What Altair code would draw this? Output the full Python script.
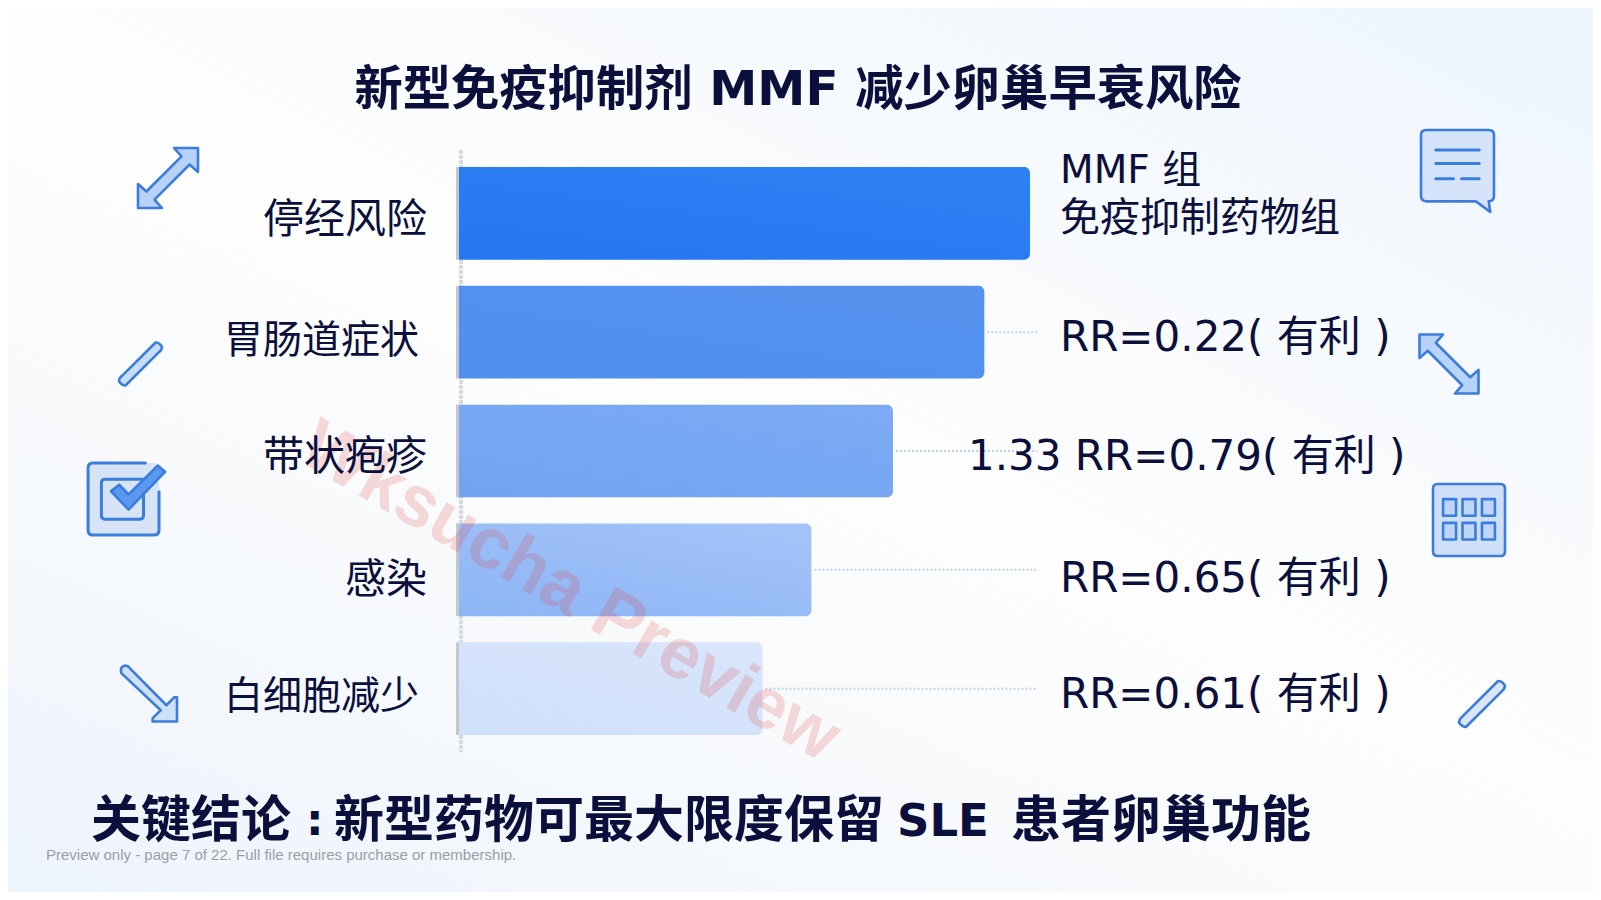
import altair as alt
import pandas as pd

categories = ["停经风险", "胃肠道症状", "带状疱疹", "感染", "白细胞减少"]
values = [1.75, 1.61, 1.33, 1.08, 0.93]
notes = ["", "RR=0.22( 有利 )", "1.33 RR=0.79( 有利 )", "RR=0.65( 有利 )", "RR=0.61( 有利 )"]
bar_left = ["#2676f0", "#4f8fee", "#6fa4f2", "#8db5f5", "#cfe0fb"]
bar_right = ["#2f80f4", "#5592ee", "#7caaf4", "#a3c3f8", "#d8e5fb"]
legend_lines = ["MMF 组", "免疫抑制药物组"]
TITLE = "新型免疫抑制剂 MMF 减少卵巢早衰风险"
CONCLUSION_PARTS = ["关键结论", ":", "新型药物可最大限度保留", "SLE", "患者卵巢功能"]
FOOT = "Preview only - page 7 of 22. Full file requires purchase or membership."
MARK = "Wksucha Preview"

W, H = 1585, 884
OX, OY = 8, 8
CJK = "DejaVu Sans, Noto Sans CJK SC, sans-serif"
INK = "#0b0f3c"

df = pd.DataFrame({"cat": categories, "val": values, "note": notes})
x_scale = alt.Scale(domain=[0, W / 326.3], range=[0, W], nice=False, zero=False)


def px(v):
    return alt.value(v - OX)


def py(v):
    return alt.value(v - OY)


def text(s, x, y, size, weight="normal", align="left", color=INK, font=CJK, **kw):
    return (
        alt.Chart(pd.DataFrame({"t": [s]}))
        .mark_text(align=align, baseline="middle", fontSize=size, fontWeight=weight, color=color, font=font, **kw)
        .encode(text="t:N", x=px(x), y=py(y))
    )


def icon(path, x, y, box, fill, stroke="#3a7ddc", sw=2.6):
    kw = {"filled": True, "fill": fill} if fill else {"filled": False}
    if stroke:
        kw.update(stroke=stroke, strokeWidth=sw)
    else:
        kw.update(strokeWidth=0)
    return (
        alt.Chart(pd.DataFrame({"i": [0]}))
        .mark_point(shape=path, size=box * box, opacity=1, strokeCap="round", strokeJoin="round", **kw)
        .encode(x=px(x), y=py(y))
    )


def wash(x1, y1, x2, y2, rgb, top_alpha):
    return (
        alt.Chart(pd.DataFrame({"b": [0]}))
        .mark_rect(
            color=alt.LinearGradient(
                gradient="linear", x1=x1, y1=y1, x2=x2, y2=y2,
                stops=[
                    alt.GradientStop(color=f"rgba({rgb},{top_alpha})", offset=0),
                    alt.GradientStop(color=f"rgba({rgb},0)", offset=1),
                ],
            )
        )
        .encode(x=alt.value(0), x2=alt.value(W), y=alt.value(0), y2=alt.value(H))
    )


base = (
    alt.Chart(pd.DataFrame({"b": [0]}))
    .mark_rect(color="#fdfdfc")
    .encode(x=alt.value(0), x2=alt.value(W), y=alt.value(0), y2=alt.value(H))
)
layers = [
    base,
    wash(0, 1, 0.42, 0.45, "238,244,252", 1),
    wash(1, 0, 0.55, 0.5, "238,245,254", 1),
]

band_scale = alt.Scale(domain=categories, range=[167 - OY, 735 - OY], paddingInner=0.22, paddingOuter=0)
y_band = alt.Y("cat:N", sort=categories, axis=None, scale=band_scale)

# axis stubs between bars and grey edge beside each bar
layers.append(
    alt.Chart(df).mark_rule(color="#d6d9dd", strokeWidth=3, strokeDash=[4, 1])
    .encode(x=px(461), y=py(150), y2=py(752))
)
layers.append(
    alt.Chart(df).mark_bar(color="#c3c8cf", width=3).encode(x=px(457.5), y=y_band)
)

# leader dots
rows = df.iloc[1:]
layers.append(
    alt.Chart(rows).mark_rule(color="#c0d3e8", strokeWidth=2, strokeDash=[2, 2])
    .encode(
        x=alt.X("val:Q", scale=x_scale, axis=None),
        x2=px(1037),
        y=alt.Y("cat:N", sort=categories, axis=None, bandPosition=0.5, scale=band_scale),
        xOffset=alt.value(459 - OX + 3),
    )
)

# bars
for c, v, l, r in zip(categories, values, bar_left, bar_right):
    layers.append(
        alt.Chart(df[df.cat == c])
        .mark_bar(
            cornerRadiusTopRight=6, cornerRadiusBottomRight=6,
            color=alt.LinearGradient(gradient="linear", x1=0, y1=1, x2=0.8, y2=0,
                                     stops=[alt.GradientStop(color=l, offset=0), alt.GradientStop(color=r, offset=1)]),
        )
        .encode(
            x=alt.X("base:Q", scale=x_scale, axis=None),
            x2="end:Q",
            y=y_band,
        )
        .transform_calculate(base=str((459 - OX) / 326.3), end=f"datum.val + {(459 - OX) / 326.3}")
    )

layers.append(text(MARK, 570, 592, 72, weight="bold", align="center", color="#e0403c",
                   font="Liberation Sans", angle=30, opacity=0.19))

# category labels
label_pos = {"停经风险": (427, 221, 41), "胃肠道症状": (419, 341, 39), "带状疱疹": (427, 458, 41),
             "感染": (427, 581, 41), "白细胞减少": (419, 697, 39)}
for c in categories:
    x, y, s = label_pos[c]
    layers.append(text(c, x, y, s, align="right"))

# right notes
note_y = [None, 338, 457, 579, 695]
for n, y in zip(notes, note_y):
    if n.startswith("1.33"):
        layers.append(text(n, 968, y, 42))
    elif n:
        layers.append(text(n, 1060, y, 42))
layers.append(text(legend_lines[0], 1060, 171, 39))
layers.append(text(legend_lines[1], 1060, 219, 40))

layers.append(text(TITLE, 798, 91, 48.3, weight="bold", align="center"))
for part, x, s in zip(CONCLUSION_PARTS, [91, 306, 334, 897, 1011], [50, 44, 50, 45, 50]):
    layers.append(text(part, x, 822, s, weight="bold"))
layers.append(text(FOOT, 46, 855, 15, color="#9a9ea6", font="Liberation Sans"))

# icons (unit box -1..1)
DBL = "M0.2,-1 L1,-1 L1,-0.2 L0.72,-0.45 L-0.45,0.72 L-0.2,1 L-1,1 L-1,0.2 L-0.72,0.45 L0.45,-0.72 Z"
DBL2 = "M-0.2,-1 L-1,-1 L-1,-0.2 L-0.72,-0.45 L0.45,0.72 L0.2,1 L1,1 L1,0.2 L0.72,0.45 L-0.45,-0.72 Z"
PILL = "M0.7,-1 Q0.88,-1 1,-0.8 Q1,-0.66 0.86,-0.55 L-0.7,1 Q-0.86,1 -1,0.8 Q-1,0.66 -0.86,0.55 Z"
ARROW = ("M-0.98,-0.72 Q-1.05,-0.92 -0.9,-0.98 Q-0.78,-1.03 -0.68,-0.9 L0.62,0.42 L0.9,0.14 L1,0.14 "
         "L1,1 L0.13,1 L0.13,0.88 L0.42,0.6 Z")
BUBBLE = ("M-0.89,-0.88 Q-0.89,-1 -0.76,-1 L0.76,-1 Q0.89,-1 0.89,-0.88 L0.89,0.6 Q0.89,0.74 0.76,0.74 L0.8,1 "
          "L0.45,0.74 L-0.76,0.74 Q-0.89,0.74 -0.89,0.6 Z")
LINES = "M-0.53,-0.51 L0.53,-0.51 M-0.53,-0.18 L0.53,-0.18 M-0.53,0.19 L-0.1,0.19 M0.1,0.19 L0.53,0.19"
GRID = "M-0.88,-1 L0.88,-1 Q1,-1 1,-0.86 L1,0.86 Q1,1 0.88,1 L-0.88,1 Q-1,1 -1,0.86 L-1,-0.86 Q-1,-1 -0.88,-1 Z"
CELLS = ("M-0.72,-0.58 h0.36 v0.46 h-0.36 Z M-0.18,-0.58 h0.36 v0.46 h-0.36 Z M0.36,-0.58 h0.36 v0.46 h-0.36 Z "
         "M-0.72,0.08 h0.36 v0.46 h-0.36 Z M-0.18,0.08 h0.36 v0.46 h-0.36 Z M0.36,0.08 h0.36 v0.46 h-0.36 Z")
BOXFILL = "M-0.84,-1 L0.86,-1 Q1,-1 1,-0.86 L1,0.86 Q1,1 0.86,1 L-0.84,1 Q-0.97,1 -0.97,0.86 L-0.97,-0.86 Q-0.97,-1 -0.84,-1 Z"
BOXLINE = "M0.62,-1 L-0.84,-1 Q-0.97,-1 -0.97,-0.86 L-0.97,0.86 Q-0.97,1 -0.84,1 L0.86,1 Q1,1 1,0.86 L1,-0.2"
INNER = "M0.57,-0.55 L-0.5,-0.55 Q-0.6,-0.55 -0.6,-0.45 L-0.6,0.46 Q-0.6,0.56 -0.5,0.56 L0.47,0.56 Q0.57,0.56 0.57,0.46 L0.57,-0.1"
CHECK = "M-1,0.12 L-0.7,-0.12 L-0.35,0.24 L0.73,-0.83 L1,-0.6 L-0.35,0.8 Z"

layers += [
    icon(DBL, 168, 178, 60, "#b9d2f7"),
    icon(PILL, 140.5, 364, 43, "#c9dcf8"),
    icon(ARROW, 149, 693.5, 56, "#cfe0f9"),
    icon(BOXFILL, 123, 499, 72, "#d7e4f8", stroke=None),
    icon(BOXLINE, 123, 499, 72, None, sw=3),
    icon(INNER, 123, 499, 72, None, sw=3),
    icon(CHECK, 138, 488, 54, "#5b98ef"),
    icon(BUBBLE, 1457.5, 171, 82, "#d5e4fa"),
    icon(LINES, 1457.5, 171, 82, None, sw=3),
    icon(DBL2, 1449, 364, 59, "#b9d2f7"),
    icon(GRID, 1469, 520, 72, "#cfdff8"),
    icon(CELLS, 1469, 520, 72, "#bfd5f5"),
    icon(PILL, 1482, 704, 46, "#dbe7f8"),
]

chart = (
    alt.layer(*layers)
    .properties(width=W, height=H, padding=0, autosize=alt.AutoSizeParams(type="none"))
    .configure_view(stroke=None)
)
chart.save("out.html", embed_options={"renderer": "svg", "actions": False})
